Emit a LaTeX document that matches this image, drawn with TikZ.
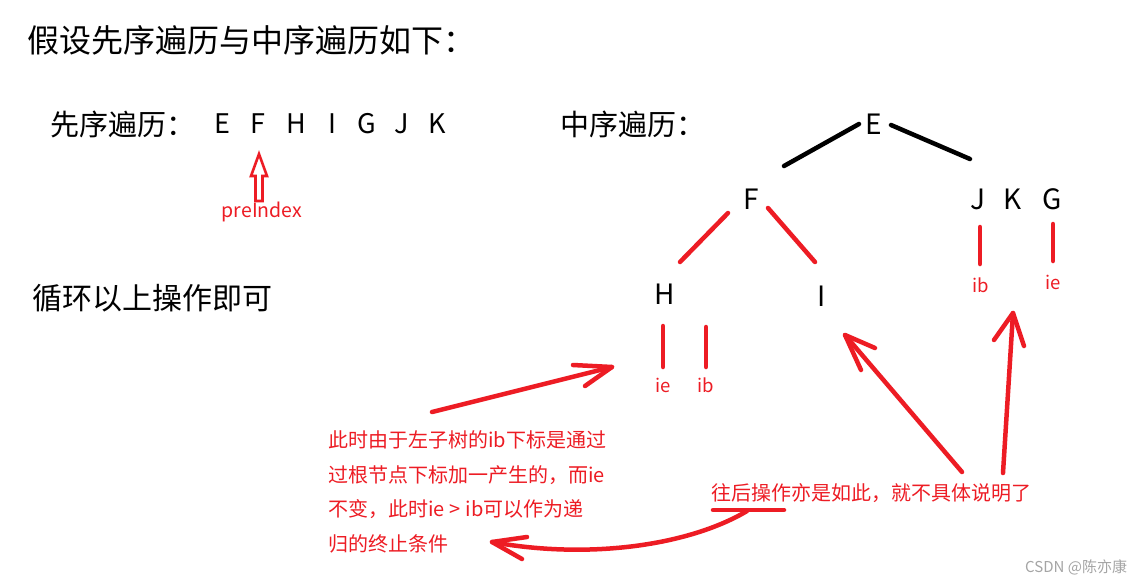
\documentclass[tikz,border=0pt]{standalone}
\usepackage{fontspec}
\setmainfont{Noto Sans CJK SC}
\definecolor{pred}{RGB}{237,28,36}
\definecolor{wmgray}{RGB}{165,165,165}
\begin{document}
\begin{tikzpicture}[x=1pt,y=-1pt,
  txt/.style={inner sep=0pt,anchor=west},
  title/.style={txt,font=\fontsize{32}{32}\selectfont},
  lab/.style={txt,font=\fontsize{29}{29}\selectfont},
  letter/.style={inner sep=0pt,font=\fontsize{27}{27}\selectfont},
  tletter/.style={inner sep=0pt,font=\fontsize{28}{28}\selectfont},
  idx/.style={inner sep=0pt,text=pred,font=\fontsize{18.5}{18.5}\selectfont},
  note/.style={txt,text=pred,font=\fontsize{20}{20}\selectfont},
  blk/.style={line width=4.5pt,line cap=round},
  redl/.style={pred,line width=4.5pt,line cap=round,line join=round},
]
\useasboundingbox[fill=white] (0,0) rectangle (1141,584);

% headings
\node[title] (title) at (27,40) {假设先序遍历与中序遍历如下：};
\node[lab] (prelab) at (50,124) {先序遍历：};
\node[lab] (inlab) at (560,124) {中序遍历：};
\node[lab,font=\fontsize{30}{30}\selectfont] (loop) at (32,298) {循环以上操作即可};

% preorder sequence
\node[letter] (pE) at (222,124) {E};
\node[letter] (pF) at (258,124) {F};
\node[letter] (pH) at (296,124) {H};
\node[letter] (pI) at (332,124) {I};
\node[letter] (pG) at (367,124) {G};
\node[letter] (pJ) at (402,124) {J};
\node[letter] (pK) at (437,124) {K};

% preIndex hollow arrow
\draw[pred,line width=2.6pt,line join=miter]
  (255.5,201) -- (255.5,176) -- (251,176) -- (259,154) -- (267,176) -- (262.5,176) -- (262.5,201) -- cycle;
\node[idx,font=\fontsize{19.5}{19.5}\selectfont] (pre) at (262,212) {preIndex};

% tree
\node[tletter] (E) at (874,124) {E};
\node[tletter] (F) at (751,199) {F};
\node[tletter] (J) at (978,199) {J};
\node[tletter] (K) at (1013,199) {K};
\node[tletter] (G) at (1052,199) {G};
\node[tletter] (H) at (665,294) {H};
\node[tletter] (I) at (822,296) {I};

\coordinate (eL1) at (859,124);
\coordinate (eL2) at (784,166);
\coordinate (eR1) at (891,125);
\coordinate (eR2) at (970,159);
\draw[blk] (eL1) -- (eL2);
\draw[blk] (eR1) -- (eR2);

\coordinate (fL1) at (728,213);
\coordinate (fL2) at (680,262);
\coordinate (fR1) at (768,208);
\coordinate (fR2) at (815,262);
\draw[redl] (fL1) -- (fL2);
\draw[redl] (fR1) -- (fR2);

% index marks
\coordinate (jb1) at (980,227); \coordinate (jb2) at (980,264);
\coordinate (ge1) at (1053,224); \coordinate (ge2) at (1053,261);
\draw[redl] (jb1) -- (jb2);
\draw[redl] (ge1) -- (ge2);
\node[idx] (ibR) at (981,285) {ib};
\node[idx] (ieR) at (1053,282) {ie};

\coordinate (he1) at (663,326); \coordinate (he2) at (663,367);
\coordinate (hb1) at (706,327); \coordinate (hb2) at (706,367);
\draw[redl] (he1) -- (he2);
\draw[redl] (hb1) -- (hb2);
\node[idx] (ieL) at (663,385) {ie};
\node[idx] (ibL) at (706,385) {ib};

% notes
\node[note] (n1) at (328,440) {此时由于左子树的ib下标是通过};
\node[note] (n2) at (328,475) {过根节点下标加一产生的，而ie};
\node[note] (n3) at (328,509) {不变，此时ie\kern0.25em>\kern0.25em ib可以作为递};
\node[note] (n4) at (328,544) {归的终止条件};
\node[txt,text=pred,font=\fontsize{20}{20}\selectfont] (n5) at (711,493) {往后操作亦是如此，就不具体说明了};

% arrow to H
\coordinate (a1s) at (432,412);
\coordinate (a1t) at (612,367);
\coordinate (a1b1) at (573,365);
\coordinate (a1b2) at (585,386);
\draw[redl] (a1s) -- (a1t);
\draw[redl] (a1b1) -- (a1t) -- (a1b2);

% arrow to I
\coordinate (a2s) at (962,472);
\coordinate (a2t) at (845,335);
\coordinate (a2b1) at (875,348);
\coordinate (a2b2) at (861,370);
\draw[redl] (a2s) -- (a2t);
\draw[redl] (a2b1) -- (a2t) -- (a2b2);

% arrow to JKG
\coordinate (a3s) at (1003,473);
\coordinate (a3t) at (1013,313);
\coordinate (a3b1) at (994,340);
\coordinate (a3b2) at (1024,346);
\draw[redl] (a3s) -- (a3t);
\draw[redl] (a3b1) -- (a3t) -- (a3b2);

% curved arrow back to note
\coordinate (u1) at (713,510);
\coordinate (u2) at (784,510);
\coordinate (cS) at (747,511);
\coordinate (cT) at (492,542);
\coordinate (cb1) at (527,537);
\coordinate (cb2) at (522,559);
\draw[redl] (u1) -- (u2);
\draw[redl] (cS) .. controls (690,545) and (590,560) .. (cT);
\draw[redl] (cb1) -- (cT) -- (cb2);

% watermark
\node[txt,text=wmgray,font=\fontsize{15}{15}\selectfont] (wm) at (1025,567) {CSDN @陈亦康};
\end{tikzpicture}
\end{document}
